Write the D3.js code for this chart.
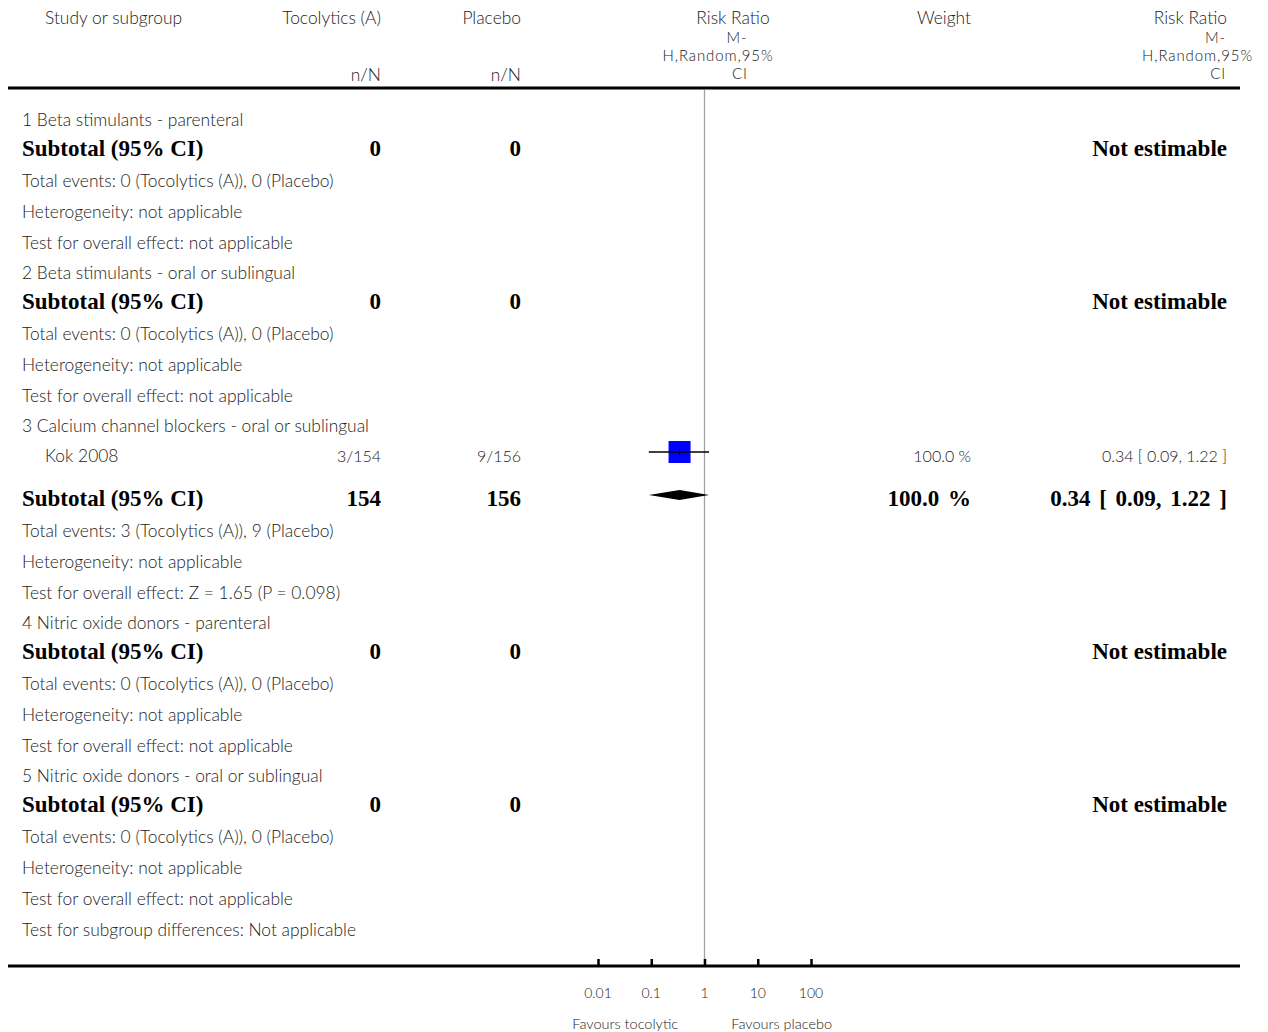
<!DOCTYPE html>
<html><head><meta charset="utf-8">
<script src="https://cdn.jsdelivr.net/npm/d3@7"></script>
<style>
body{margin:0;background:#fff;}
svg text{font-family:Lato,"Open Sans",sans-serif;}
.n{font-size:17.4px;fill:#222;font-weight:300;}
.st{font-size:15px;letter-spacing:0.9px;fill:#222;font-weight:300;}
.num{font-size:16px;fill:#222;font-weight:300;}
.b{font-family:"Liberation Serif","Times New Roman",serif !important;font-size:23px;font-weight:bold;fill:#000;}
.bw{word-spacing:3px;}
</style></head>
<body>
<svg id="c" width="1268" height="1032"></svg>
<script>
// ---- data ----
const groupNames = ["1 Beta stimulants - parenteral","2 Beta stimulants - oral or sublingual","3 Calcium channel blockers - oral or sublingual","4 Nitric oxide donors - parenteral","5 Nitric oxide donors - oral or sublingual"];
const subtotalNA = [0,0,154,0,0];
const subtotalNB = [0,0,156,0,0];
const eventsA = [0,0,3,0,0];
const eventsB = [0,0,9,0,0];
const heterogeneity = ["not applicable","not applicable","not applicable","not applicable","not applicable"];
const overallEffect = ["not applicable","not applicable","Z = 1.65 (P = 0.098)","not applicable","not applicable"];
const subtotalRR = [null,null,0.34,null,null];
const subtotalLo = [null,null,0.09,null,null];
const subtotalHi = [null,null,1.22,null,null];
const subtotalWeight = [null,null,100.0,null,null];
const studyNames = ["Kok 2008"];
const studyGroup = [2];
const studyA = ["3/154"];
const studyB = ["9/156"];
const studyRR = [0.34];
const studyLo = [0.09];
const studyHi = [1.22];
const studyWeight = [100.0];
const tickValues = [0.01,0.1,1,10,100];
const tickLabels = ["0.01","0.1","1","10","100"];
const subgroupDiff = "Test for subgroup differences: Not applicable";
const favourLeft = "Favours tocolytic", favourRight = "Favours placebo";

// ---- build rows ----
const rows = [];
groupNames.forEach((g,i)=>{
  rows.push({type:"group",text:g});
  studyNames.forEach((s,j)=>{ if(studyGroup[j]===i) rows.push({type:"study",j}); });
  rows.push({type:"subtotal",i});
  rows.push({type:"info",text:`Total events: ${eventsA[i]} (Tocolytics (A)), ${eventsB[i]} (Placebo)`});
  rows.push({type:"info",text:`Heterogeneity: ${heterogeneity[i]}`});
  rows.push({type:"info",text:`Test for overall effect: ${overallEffect[i]}`});
});
rows.push({type:"info",text:subgroupDiff});

let y = 120, prev = null;
rows.forEach((r,k)=>{
  if(k>0){
    if(r.type==="group") y += 30;
    else if(r.type==="study") y += 30;
    else if(r.type==="subtotal") y += (prev.type==="study"?42:28);
    else if(prev.type==="subtotal") y += 33;
    else y += 31;
  }
  r.y = y; prev = r;
});

const svg = d3.select("#c");
const x = d3.scaleLog().domain([0.01,100]).range([598,811]);

// header
const hdr = svg.append("g");
const H = (t,xx,yy,anchor,cls)=>hdr.append("text").attr("class",cls||"n").attr("x",xx).attr("y",yy).attr("dy","0.35em").attr("text-anchor",anchor).text(t);
H("Study or subgroup",45,18,"start");
H("Tocolytics (A)",381,18,"end");
H("Placebo",521,18,"end");
H("n/N",381,75,"end");
H("n/N",521,75,"end");
H("Risk Ratio",733,18,"middle");
H("M-",737,38,"middle","st");
H("H,Random,95%",718,56,"middle","st");
H("CI",740,74,"middle","st");
H("Weight",971,18,"end");
H("Risk Ratio",1227,18,"end");
H("M-",1226,38,"end","st");
H("H,Random,95%",1253,56,"end","st");
H("CI",1226,74,"end","st");
svg.append("line").attr("x1",8).attr("x2",1240).attr("y1",88).attr("y2",88).attr("stroke","#000").attr("stroke-width",3);

// reference line
svg.append("line").attr("x1",x(1)).attr("x2",x(1)).attr("y1",90).attr("y2",966).attr("stroke","#a0a0a0").attr("stroke-width",1.3);

const g = svg.append("g");
const fmt = d3.format(".2f");
rows.forEach(r=>{
  if(r.type==="group" || r.type==="info"){
    g.append("text").attr("class","n").attr("x",22).attr("y",r.y).attr("dy","0.35em").text(r.text);
  } else if(r.type==="study"){
    const j=r.j;
    g.append("text").attr("class","n").attr("x",45).attr("y",r.y).attr("dy","0.35em").text(studyNames[j]);
    g.append("text").attr("class","num").attr("x",381).attr("y",r.y).attr("dy","0.35em").attr("text-anchor","end").text(studyA[j]);
    g.append("text").attr("class","num").attr("x",521).attr("y",r.y).attr("dy","0.35em").attr("text-anchor","end").text(studyB[j]);
    g.append("text").attr("class","num").attr("x",971).attr("y",r.y).attr("dy","0.35em").attr("text-anchor","end").text(d3.format(".1f")(studyWeight[j])+" %");
    g.append("text").attr("class","num").attr("x",1227).attr("y",r.y).attr("dy","0.35em").attr("text-anchor","end").text(`${fmt(studyRR[j])} [ ${fmt(studyLo[j])}, ${fmt(studyHi[j])} ]`);
    const yy = r.y - 4;
    const s = 22;
    g.append("rect").attr("x",x(studyRR[j])-s/2).attr("y",yy-s/2).attr("width",s).attr("height",s).attr("fill","#0000ff");
    g.append("line").attr("x1",x(studyLo[j])).attr("x2",x(studyHi[j])).attr("y1",yy).attr("y2",yy).attr("stroke","#000").attr("stroke-width",1.5);
    g.append("line").attr("x1",x(studyRR[j])).attr("x2",x(studyRR[j])).attr("y1",yy-3).attr("y2",yy+3).attr("stroke","#000").attr("stroke-width",1.2);
  } else if(r.type==="subtotal"){
    const i=r.i;
    g.append("text").attr("class","b").attr("x",22).attr("y",r.y).attr("dy","0.35em").text("Subtotal (95% CI)");
    g.append("text").attr("class","b").attr("x",381).attr("y",r.y).attr("dy","0.35em").attr("text-anchor","end").text(subtotalNA[i]);
    g.append("text").attr("class","b").attr("x",521).attr("y",r.y).attr("dy","0.35em").attr("text-anchor","end").text(subtotalNB[i]);
    if(subtotalRR[i]==null){
      g.append("text").attr("class","b").attr("x",1227).attr("y",r.y).attr("dy","0.35em").attr("text-anchor","end").text("Not estimable");
    } else {
      g.append("text").attr("class","b bw").attr("x",971).attr("y",r.y).attr("dy","0.35em").attr("text-anchor","end").text(d3.format(".1f")(subtotalWeight[i])+" %");
      g.append("text").attr("class","b bw").attr("x",1227).attr("y",r.y).attr("dy","0.35em").attr("text-anchor","end").text(`${fmt(subtotalRR[i])} [ ${fmt(subtotalLo[i])}, ${fmt(subtotalHi[i])} ]`);
      const yy = r.y - 3;
      const pts = [[x(subtotalLo[i]),yy],[x(subtotalRR[i]),yy-5],[x(subtotalHi[i]),yy],[x(subtotalRR[i]),yy+5]];
      g.append("path").attr("d",d3.line()(pts)+"Z").attr("fill","#000");
    }
  }
});

// axis
const ay = 966;
svg.append("line").attr("x1",8).attr("x2",1240).attr("y1",ay).attr("y2",ay).attr("stroke","#000").attr("stroke-width",3);
const ax = svg.append("g").attr("transform",`translate(0,${ay})`)
  .call(d3.axisTop(x).tickValues(tickValues).tickFormat("").tickSize(7).tickSizeOuter(0));
ax.select(".domain").remove();
ax.selectAll(".tick line").attr("stroke","#000").attr("stroke-width",2.5);
svg.append("g").selectAll("text").data(tickValues).join("text")
  .attr("class","num").style("font-size","14px")
  .attr("x",d=>x(d)).attr("y",993).attr("dy","0.35em").attr("text-anchor","middle")
  .text((d,i)=>tickLabels[i]);
svg.append("text").attr("class","num").style("font-size","14.5px").attr("x",x(0.1)-26).attr("y",1024).attr("dy","0.35em").attr("text-anchor","middle").text(favourLeft);
svg.append("text").attr("class","num").style("font-size","14.5px").attr("x",x(10)+24).attr("y",1024).attr("dy","0.35em").attr("text-anchor","middle").text(favourRight);
</script>
</body></html>
